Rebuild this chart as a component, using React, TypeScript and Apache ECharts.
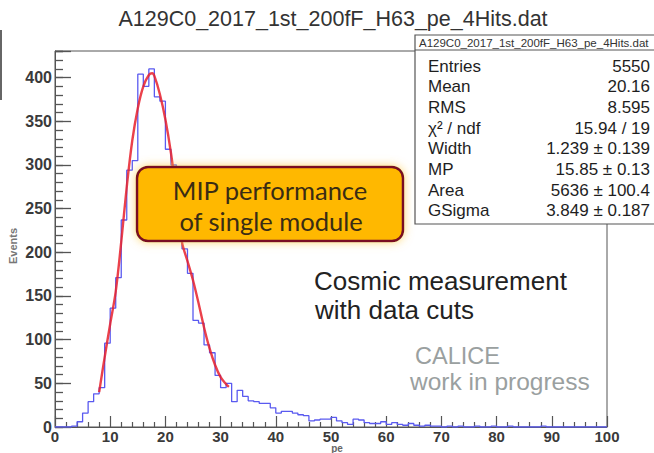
import React, { useEffect, useRef } from "react";
import * as echarts from "echarts";

// ---- data ----
const plotTitle = "A129C0_2017_1st_200fF_H63_pe_4Hits.dat";
const xMin = 0;
const xMax = 100;
const yMax = 430.5;
// bin contents, bins of width 1 pe from 0 to 100
const histCounts = [
  0, 0, 0, 1, 6, 16, 29, 38, 45, 96,
  136, 171, 237, 294, 305, 404, 390, 410, 378, 373,
  318, 300, 252, 204, 176, 122, 119, 94, 85, 59,
  45, 50, 29, 42, 35, 30, 29, 27, 27, 22,
  16, 18, 18, 16, 14, 13, 7, 8, 9, 9,
  11, 7, 5, 3, 9, 8, 5, 4, 4, 6,
  3, 5, 3, 2, 4, 2, 1, 2, 1, 1,
  0, 1, 0, 1, 0, 0, 1, 0, 0, 1,
  0, 0, 1, 0, 0, 0, 0, 0, 1, 0,
  0, 0, 0, 0, 0, 0, 0, 0, 0, 0,
];
// fitted Landau x Gauss curve
const fitX = [8, 9, 10, 11, 12, 13, 14, 15, 16, 17, 17.6, 18, 19, 20, 21, 22, 23, 24, 25, 26, 27, 28, 29, 30, 31, 31.5];
const fitY = [40, 80, 118, 155, 212, 275, 328, 365, 390, 403, 405, 402, 381, 352, 314, 266, 212, 190, 168, 142, 114, 90, 71, 57, 49, 46];

const statsHeader = "A129C0_2017_1st_200fF_H63_pe_4Hits.dat";
const statsLabels = ["Entries", "Mean", "RMS", "\u03c7\u00b2 / ndf", "Width", "MP", "Area", "GSigma"];
const statsValues = ["5550", "20.16", "8.595", "15.94 / 19", "1.239 \u00b1 0.139", "15.85 \u00b1 0.13", "5636 \u00b1 100.4", "3.849 \u00b1 0.187"];

const boxLines = ["MIP performance", "of single module"];
const noteLines = ["Cosmic measurement", "with data cuts"];
const caliceLines = ["CALICE", "work in progress"];
const yAxisName = "Events";
const xAxisName = "pe";

const ROOT_FONT = "'Liberation Sans', Arial, Helvetica, sans-serif";
const BOX_FONT = "Lato, 'Open Sans', sans-serif";

export default function App() {
  const ref = useRef<HTMLDivElement>(null);

  useEffect(() => {
    if (!ref.current) return;
    const chart = echarts.init(ref.current, undefined, { renderer: "svg" });

    const histData: number[][] = histCounts.map((c, i) => [xMin + i, c]);
    histData.push([xMax, histCounts[histCounts.length - 1]]);
    const fitData = fitX.map((x, i) => [x, fitY[i]]);

    const axisText = { fontFamily: ROOT_FONT, fontSize: 15.5, fontWeight: "bold" as const, color: "#3a3a3a" };

    const statsTexts: any[] = [];
    statsLabels.forEach((lab, i) => {
      const y = 66 + i * 20.7;
      statsTexts.push({
        type: "text", x: 428, y, z: 101,
        style: { text: lab, fontFamily: ROOT_FONT, fontSize: 17, fill: "#1e1e1e", align: "left", verticalAlign: "middle", lineHeight: 19 },
      });
      statsTexts.push({
        type: "text", x: 650, y, z: 101,
        style: { text: statsValues[i], fontFamily: ROOT_FONT, fontSize: 17, fill: "#1e1e1e", align: "right", verticalAlign: "middle", lineHeight: 19 },
      });
    });

    chart.setOption({
      animation: false,
      backgroundColor: "#fff",
      grid: { left: 55, right: 47, top: 51, bottom: 26, show: true, borderColor: "#555", borderWidth: 1 },
      xAxis: {
        type: "value", min: xMin, max: xMax, interval: 10,
        axisLine: { show: true, lineStyle: { color: "#555", width: 1 } },
        axisTick: { show: true, inside: true, length: 11, lineStyle: { color: "#555", width: 1.2 } },
        minorTick: { show: true, splitNumber: 5, length: 5, lineStyle: { color: "#555", width: 1.2 } },
        splitLine: { show: false },
        axisLabel: { ...axisText, fontSize: 15, margin: 3, lineHeight: 12 },
      },
      yAxis: [
        {
          type: "value", min: 0, max: yMax, interval: 50, position: "left",
          axisLine: { show: true, lineStyle: { color: "#555", width: 1 } },
          axisTick: { show: true, inside: true, length: 16, lineStyle: { color: "#555", width: 1.3 } },
          splitLine: { show: false },
          axisLabel: { ...axisText, fontSize: 16, margin: 3, formatter: (v: number) => (v % 50 === 0 ? String(v) : "") },
        },
        {
          type: "value", min: 0, max: yMax, interval: 10, position: "left",
          axisLine: { show: false },
          axisTick: { show: true, inside: true, length: 8, lineStyle: { color: "#555", width: 1.3 } },
          splitLine: { show: false },
          axisLabel: { show: false },
        },
      ],
      series: [
        {
          type: "line", yAxisIndex: 0, step: "end", data: histData, symbol: "none",
          lineStyle: { color: "#5a5af0", width: 1.3 }, z: 2,
        },
        {
          type: "line", yAxisIndex: 0, smooth: 0.35, data: fitData, symbol: "none",
          lineStyle: { color: "#e8202c", width: 2.4, opacity: 0.85 }, z: 3,
        },
      ],
      graphic: [
        {
          type: "text", x: 333, y: 19, z: 100,
          style: { text: plotTitle, fontFamily: ROOT_FONT, fontSize: 21.5, fill: "#333", align: "center", verticalAlign: "middle" },
        },
        { type: "rect", z: 100, shape: { x: 0, y: 30, width: 2, height: 70 }, style: { fill: "#666" } },
        {
          type: "text", x: 13, y: 246, rotation: Math.PI / 2, z: 100,
          style: { text: yAxisName, fontFamily: ROOT_FONT, fontSize: 11, fontWeight: "bold", fill: "#777", align: "center", verticalAlign: "middle" },
        },
        {
          type: "text", x: 337, y: 448.5, z: 100,
          style: { text: xAxisName, fontFamily: ROOT_FONT, fontSize: 10, fontWeight: "bold", fill: "#666", align: "center", verticalAlign: "middle", lineHeight: 9 },
        },
        // stats box
        {
          type: "rect", z: 100, shape: { x: 415, y: 35, width: 245, height: 189 },
          style: { fill: "#fff", stroke: "#555", lineWidth: 1.2 },
        },
        { type: "line", z: 101, shape: { x1: 415, y1: 50, x2: 660, y2: 50 }, style: { stroke: "#555", lineWidth: 1 } },
        {
          type: "text", x: 419, y: 43, z: 101,
          style: { text: statsHeader, fontFamily: ROOT_FONT, fontSize: 11.5, fill: "#333", align: "left", verticalAlign: "middle", lineHeight: 12 },
        },
        ...statsTexts,
        // MIP box
        {
          type: "rect", z: 100, shape: { x: 137, y: 167, width: 266, height: 74, r: 11 },
          style: { fill: "#FFB800", stroke: "#7a1020", lineWidth: 2.5, shadowBlur: 10, shadowColor: "rgba(255,205,80,0.8)" },
        },
        {
          type: "text", x: 270, y: 190, z: 101,
          style: { text: boxLines[0], fontFamily: BOX_FONT, fontSize: 25.5, fill: "#3a2c14", align: "center", verticalAlign: "middle", lineHeight: 27 },
        },
        {
          type: "text", x: 271, y: 221, z: 101,
          style: { text: boxLines[1], fontFamily: BOX_FONT, fontSize: 25.5, fill: "#3a2c14", align: "center", verticalAlign: "middle", lineHeight: 27 },
        },
        // annotations
        {
          type: "text", x: 314, y: 280.5, z: 100,
          style: { text: noteLines[0], fontFamily: ROOT_FONT, fontSize: 26, fill: "#222", align: "left", verticalAlign: "middle", lineHeight: 27 },
        },
        {
          type: "text", x: 315, y: 309.5, z: 100,
          style: { text: noteLines[1], fontFamily: ROOT_FONT, fontSize: 26, fill: "#222", align: "left", verticalAlign: "middle", lineHeight: 27 },
        },
        {
          type: "text", x: 415, y: 356, z: 100,
          style: { text: caliceLines[0], fontFamily: ROOT_FONT, fontSize: 23.5, fill: "#9aa0a0", align: "left", verticalAlign: "middle", lineHeight: 22 },
        },
        {
          type: "text", x: 410, y: 381.5, z: 100,
          style: { text: caliceLines[1], fontFamily: ROOT_FONT, fontSize: 24.5, fill: "#9aa0a0", align: "left", verticalAlign: "middle", lineHeight: 22 },
        },
      ],
    });

    return () => chart.dispose();
  }, []);

  return (
    <div
      ref={ref}
      style={{ position: "fixed", left: 0, top: 0, width: 654, height: 453, background: "#fff" }}
    />
  );
}
